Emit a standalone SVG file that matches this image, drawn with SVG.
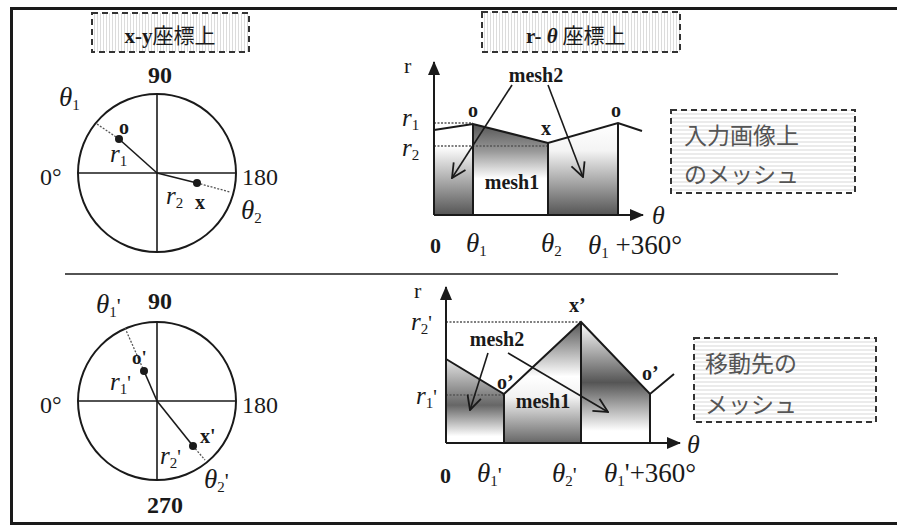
<svg xmlns="http://www.w3.org/2000/svg" width="897" height="528" viewBox="0 0 897 528">
<defs>
<style>
.ln{stroke:#1a1a1a;stroke-width:2;fill:none}
.thin{stroke:#1a1a1a;stroke-width:1.6;fill:none}
.dot{stroke:#555;stroke-width:1.3;stroke-dasharray:2 1.5;fill:none}
.box{stroke:#333;stroke-width:2;stroke-dasharray:6 4}
.num{font-family:"Liberation Serif",serif;fill:#1a1a1a}
.b{font-weight:bold}
.it{font-family:"Liberation Serif",serif;font-style:italic;fill:#1a1a1a}
.it tspan{font-style:normal}
.jp{font-family:"Noto Sans CJK JP",sans-serif;fill:#555}
.jpb{font-family:"Noto Sans CJK JP",sans-serif;fill:#1a1a1a}
.pt{fill:#1a1a1a}
</style>
<pattern id="vstripe" width="3" height="4" patternUnits="userSpaceOnUse"><rect width="3" height="4" fill="#fff"/><line x1="1.5" y1="0" x2="1.5" y2="4" stroke="#dcdcdc" stroke-width="1"/></pattern>
<pattern id="hstripe" width="4" height="4" patternUnits="userSpaceOnUse"><rect width="4" height="4" fill="#fff"/><line x1="0" y1="2" x2="4" y2="2" stroke="#d8d8d8" stroke-width="1"/></pattern>
<marker id="open" viewBox="0 0 16 16" refX="15" refY="8" markerWidth="16" markerHeight="16" markerUnits="userSpaceOnUse" orient="auto"><path d="M1,1 L15,8 L1,15" fill="none" stroke="#1a1a1a" stroke-width="1.8"/></marker>
<marker id="solid" viewBox="0 0 14 14" refX="13" refY="7" markerWidth="14" markerHeight="14" markerUnits="userSpaceOnUse" orient="auto"><path d="M0,1 L14,7 L0,13 Z" fill="#1a1a1a"/></marker>
<linearGradient id="gA" x1="0" y1="0" x2="0" y2="1"><stop offset="0" stop-color="#fff"/><stop offset="0.25" stop-color="#fff"/><stop offset="1" stop-color="#555"/></linearGradient>
<linearGradient id="gB" x1="0" y1="0" x2="0" y2="1"><stop offset="0" stop-color="#555"/><stop offset="0.3" stop-color="#999"/><stop offset="0.6" stop-color="#fff"/><stop offset="1" stop-color="#fff"/></linearGradient>
<linearGradient id="gC" x1="0" y1="0" x2="0" y2="1"><stop offset="0" stop-color="#fff"/><stop offset="0.3" stop-color="#f4f4f4"/><stop offset="1" stop-color="#555"/></linearGradient>
<linearGradient id="hA" x1="0" y1="0" x2="0" y2="1"><stop offset="0" stop-color="#e4e4e4"/><stop offset="0.55" stop-color="#666"/><stop offset="0.92" stop-color="#fff"/></linearGradient>
<linearGradient id="hB" x1="0" y1="0" x2="0" y2="1"><stop offset="0" stop-color="#555"/><stop offset="0.45" stop-color="#fff"/><stop offset="0.62" stop-color="#f2f2f2"/><stop offset="1" stop-color="#666"/></linearGradient>
<linearGradient id="hC" x1="0" y1="0" x2="0" y2="1"><stop offset="0" stop-color="#fff"/><stop offset="0.5" stop-color="#555"/><stop offset="0.9" stop-color="#fff"/></linearGradient>
</defs>
<rect width="897" height="528" fill="#fff"/>
<g id="frame">
<rect x="11.5" y="8.5" width="900" height="515" fill="none" stroke="#1a1a1a" stroke-width="3"/>
<line x1="65" y1="274" x2="838" y2="274" stroke="#1a1a1a" stroke-width="1.6"/>
</g>

<g id="label-xy">
<rect class="box" x="92" y="13" width="157" height="39" fill="url(#vstripe)"/>
<text x="170" y="43" text-anchor="middle" font-size="21"><tspan class="num b">x-y</tspan><tspan class="jpb">座標上</tspan></text>
</g>
<g id="label-rtheta">
<rect class="box" x="482" y="12" width="198" height="40" fill="url(#vstripe)"/>
<text x="526" y="43" font-size="21"><tspan class="num b">r- </tspan><tspan class="num b" font-style="italic">θ</tspan><tspan class="jpb"> 座標上</tspan></text>
</g>
<g id="label-input">
<rect class="box" x="671" y="110" width="184" height="83" fill="url(#hstripe)"/>
<text class="jp" x="684" y="144" font-size="23">入力画像上</text>
<text class="jp" x="684" y="183" font-size="23">のメッシュ</text>
</g>
<g id="label-dest">
<rect class="box" x="694" y="338" width="182" height="84" fill="url(#hstripe)"/>
<text class="jp" x="705" y="372" font-size="23">移動先の</text>
<text class="jp" x="705" y="413" font-size="23">メッシュ</text>
</g>

<g id="circle-xy">
<circle class="ln" cx="157" cy="173" r="79"/>
<line class="thin" x1="78" y1="173" x2="236" y2="173"/>
<line class="thin" x1="157" y1="94" x2="157" y2="252"/>
<line class="dot" x1="97" y1="124" x2="119" y2="139"/>
<line class="dot" x1="197" y1="183" x2="230" y2="192"/>
<line class="thin" x1="119" y1="139" x2="157" y2="173"/>
<line class="thin" x1="157" y1="173" x2="197" y2="183"/>
<circle class="pt" cx="119" cy="139" r="4"/>
<circle class="pt" cx="197" cy="183" r="4"/>
<text class="num b" x="160" y="83" font-size="24" text-anchor="middle">90</text>
<text class="num" x="40" y="185" font-size="24">0°</text>
<text class="num" x="242" y="185" font-size="24">180</text>
<text class="it" x="59" y="106" font-size="27">θ<tspan font-size="15" dy="4">1</tspan></text>
<text class="it" x="241" y="219" font-size="27">θ<tspan font-size="15" dy="4">2</tspan></text>
<text class="num b" x="119" y="134" font-size="20">o</text>
<text class="it" x="110" y="162" font-size="25">r<tspan font-size="15" dy="4">1</tspan></text>
<text class="it" x="166" y="204" font-size="25">r<tspan font-size="15" dy="4">2</tspan></text>
<text class="num b" x="195" y="209" font-size="20">x</text>
</g>

<g id="graph-rtheta">
<polygon points="434,130 473,124 473,215 434,215" fill="url(#gA)"/>
<polygon points="473,124 548,143 548,215 473,215" fill="url(#gB)"/>
<polygon points="548,143 618,123 618,215 548,215" fill="url(#gC)"/>
<line class="dot" x1="434" y1="123" x2="473" y2="123"/>
<line class="dot" x1="434" y1="146" x2="548" y2="146"/>
<polyline class="ln" points="434,130 473,124 548,143 618,123 642,131"/>
<line class="ln" x1="473" y1="124" x2="473" y2="215"/>
<line class="ln" x1="548" y1="143" x2="548" y2="215"/>
<line class="ln" x1="618" y1="123" x2="618" y2="215"/>
<line class="ln" x1="434" y1="215" x2="434" y2="62" marker-end="url(#solid)"/>
<line class="ln" x1="434" y1="215" x2="643" y2="215" marker-end="url(#solid)"/>
<text class="num" x="404" y="73" font-size="22">r</text>
<text class="it" x="402" y="126" font-size="25">r<tspan font-size="15" dy="4">1</tspan></text>
<text class="it" x="402" y="156" font-size="25">r<tspan font-size="15" dy="4">2</tspan></text>
<text class="it" x="652" y="224" font-size="26">θ</text>
<text class="num b" x="468" y="117" font-size="20">o</text>
<text class="num b" x="611" y="117" font-size="20">o</text>
<text class="num b" x="541" y="135" font-size="20">x</text>
<text class="num b" x="536" y="82" font-size="20" text-anchor="middle">mesh2</text>
<text class="num b" x="512" y="189" font-size="20" text-anchor="middle">mesh1</text>
<text class="num b" x="430" y="253" font-size="22">0</text>
<text class="it" x="466" y="252" font-size="27">θ<tspan font-size="15" dy="4">1</tspan></text>
<text class="it" x="541" y="252" font-size="27">θ<tspan font-size="15" dy="4">2</tspan></text>
<text class="it" x="588" y="254" font-size="27">θ<tspan font-size="15" dy="4">1</tspan><tspan dy="-4"> +360°</tspan></text>
</g>

<g id="circle-xy-moved">
<circle class="ln" cx="157" cy="401" r="79"/>
<line class="thin" x1="78" y1="401" x2="236" y2="401"/>
<line class="thin" x1="157" y1="322" x2="157" y2="480"/>
<line class="dot" x1="125" y1="328" x2="144" y2="371"/>
<line class="dot" x1="193" y1="446" x2="205" y2="460"/>
<line class="thin" x1="144" y1="371" x2="157" y2="401"/>
<line class="thin" x1="157" y1="401" x2="193" y2="446"/>
<circle class="pt" cx="144" cy="371" r="4"/>
<circle class="pt" cx="193" cy="446" r="4"/>
<text class="num b" x="160" y="309" font-size="24" text-anchor="middle">90</text>
<text class="num" x="40" y="413" font-size="24">0°</text>
<text class="num" x="242" y="413" font-size="24">180</text>
<text class="num b" x="165" y="513" font-size="24" text-anchor="middle">270</text>
<text class="it" x="96" y="313" font-size="27">θ<tspan font-size="15" dy="4">1</tspan><tspan dy="-4" font-size="22">'</tspan></text>
<text class="it" x="204" y="488" font-size="27">θ<tspan font-size="15" dy="4">2</tspan><tspan dy="-4" font-size="22">'</tspan></text>
<text class="num b" x="132" y="364" font-size="19">o'</text>
<text class="it" x="110" y="390" font-size="25">r<tspan font-size="15" dy="4">1</tspan><tspan dy="-4" font-size="20">'</tspan></text>
<text class="it" x="160" y="464" font-size="25">r<tspan font-size="15" dy="4">2</tspan><tspan dy="-4" font-size="20">'</tspan></text>
<text class="num b" x="200" y="443" font-size="20">x'</text>
</g>

<g id="graph-rtheta-moved">
<polygon points="446,359 504,394 504,443 446,443" fill="url(#hA)"/>
<polygon points="504,394 581,322 581,443 504,443" fill="url(#hB)"/>
<polygon points="581,322 650,394 650,443 581,443" fill="url(#hC)"/>
<line class="dot" x1="446" y1="322" x2="581" y2="322"/>
<line class="dot" x1="446" y1="395" x2="504" y2="395"/>
<polyline class="ln" points="446,359 504,394 581,322 650,394 674,374"/>
<line class="ln" x1="504" y1="394" x2="504" y2="443"/>
<line class="ln" x1="581" y1="322" x2="581" y2="443"/>
<line class="ln" x1="650" y1="394" x2="650" y2="443"/>
<line class="ln" x1="446" y1="443" x2="446" y2="287" marker-end="url(#solid)"/>
<line class="ln" x1="446" y1="443" x2="680" y2="443" marker-end="url(#solid)"/>
<text class="num" x="414" y="298" font-size="22">r</text>
<text class="it" x="411" y="330" font-size="25">r<tspan font-size="15" dy="4">2</tspan><tspan dy="-4" font-size="20">'</tspan></text>
<text class="it" x="416" y="404" font-size="25">r<tspan font-size="15" dy="4">1</tspan><tspan dy="-4" font-size="20">'</tspan></text>
<text class="it" x="687" y="453" font-size="26">θ</text>
<text class="num b" x="497" y="389" font-size="20">o’</text>
<text class="num b" x="642" y="380" font-size="20">o’</text>
<text class="num b" x="569" y="312" font-size="20">x’</text>
<text class="num b" x="497" y="346" font-size="20" text-anchor="middle">mesh2</text>
<text class="num b" x="543" y="408" font-size="20" text-anchor="middle">mesh1</text>
<text class="num b" x="440" y="483" font-size="22">0</text>
<text class="it" x="477" y="482" font-size="27">θ<tspan font-size="15" dy="4">1</tspan><tspan dy="-4" font-size="22">'</tspan></text>
<text class="it" x="552" y="482" font-size="27">θ<tspan font-size="15" dy="4">2</tspan><tspan dy="-4" font-size="22">'</tspan></text>
<text class="it" x="604" y="482" font-size="27">θ<tspan font-size="15" dy="4">1</tspan><tspan dy="-4">'+360°</tspan></text>
</g>

<g id="connectors">
<line class="thin" x1="512" y1="85" x2="452" y2="178" marker-end="url(#open)"/>
<line class="thin" x1="548" y1="85" x2="583" y2="177" marker-end="url(#open)"/>
<line class="thin" x1="488" y1="353" x2="470" y2="410" marker-end="url(#open)"/>
<line class="thin" x1="508" y1="353" x2="608" y2="412" marker-end="url(#open)"/>
</g>
</svg>
